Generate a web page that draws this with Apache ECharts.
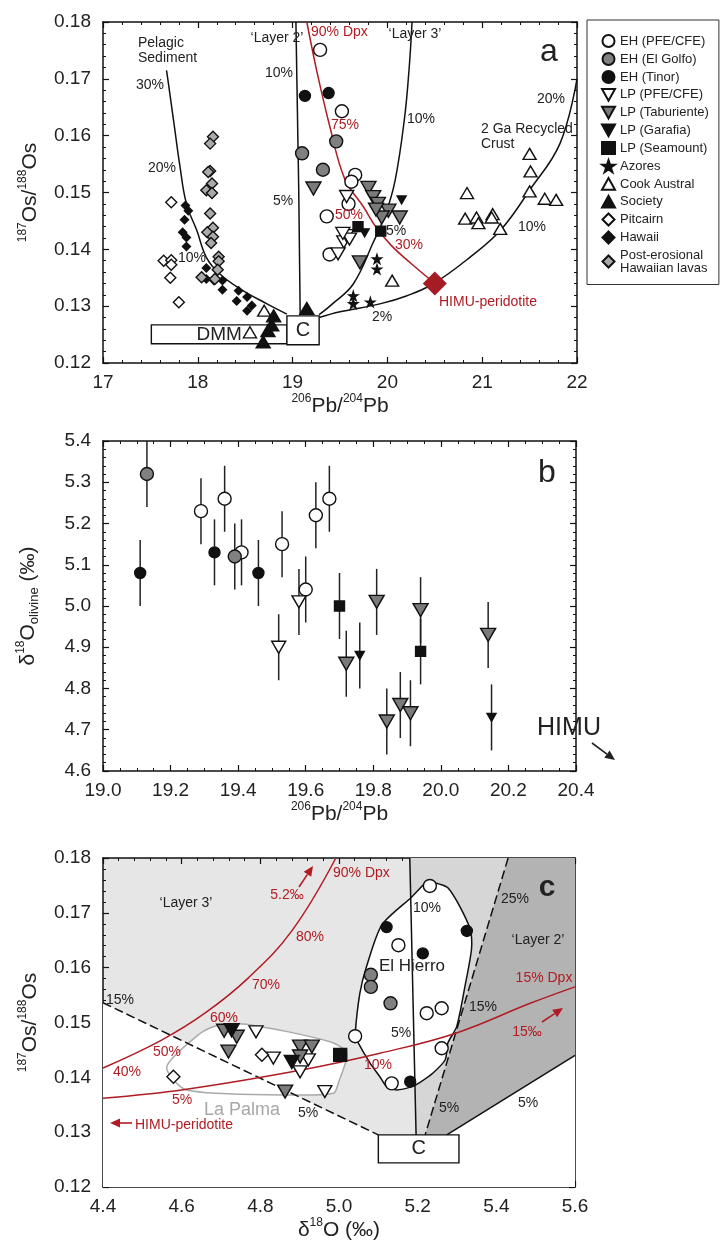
<!DOCTYPE html>
<html>
<head>
<meta charset="utf-8">
<script src="https://cdn.jsdelivr.net/npm/echarts@6/dist/echarts.min.js"></script>
<style>
  html, body { margin: 0; padding: 0; background: #fff; }
  #chart { width: 721px; height: 1254px; }
</style>
</head>
<body>
<div id="chart"></div>
<script>
// ---------- panel a : 187Os/188Os vs 206Pb/204Pb ----------
const aEhPfe = [[19.29,0.1751],[19.52,0.1643],[19.66,0.1531],[19.62,0.1519],[19.59,0.1480],[19.36,0.1458],[19.39,0.1391]];
const aEhGolfo = [[19.10,0.1569],[19.32,0.1540],[19.46,0.1590]];
const aEhTinor = [[19.13,0.1670],[19.38,0.1675]];
const aLpPfe = [[19.57,0.1493],[19.54,0.1413],[19.57,0.1424],[19.60,0.1418],[19.48,0.1392],[19.53,0.1428]];
const aLpTab = [[19.22,0.1507],[19.80,0.1508],[19.85,0.1492],[19.90,0.1480],[20.01,0.1468],[19.94,0.1456],[20.13,0.1456],[19.71,0.1377],[19.88,0.1470]];
const aLpGaraf = [[20.15,0.1487],[19.76,0.1429]];
const aLpSea = [[19.69,0.1440],[19.93,0.1432]];
const aAzores = [[19.89,0.1383],[19.89,0.1365],[19.64,0.1318],[19.64,0.1304],[19.82,0.1307]];
const aCook = [[20.84,0.1499],[20.82,0.1454],[20.94,0.1456],[20.96,0.1446],[21.11,0.1462],[21.10,0.1456],[21.19,0.1436],
  [21.50,0.1568],[21.51,0.1537],[21.50,0.1502],[21.66,0.1489],[21.78,0.1487],[20.05,0.1345],[18.70,0.1292],[18.55,0.1254]];
const aSociety = [[18.80,0.1283],[18.78,0.1267],[18.74,0.1257],[18.69,0.1237],[19.15,0.1296]];
const aPitcairn = [[17.72,0.1483],[17.64,0.1380],[17.72,0.1381],[17.72,0.1373],[17.71,0.1350],[17.80,0.1307]];
const aHawaii = [[17.87,0.1477],[17.90,0.1468],[17.86,0.1452],[17.84,0.1430],[17.88,0.1421],[17.88,0.1405],[18.09,0.1367],
  [18.09,0.1348],[18.17,0.1345],[18.26,0.1345],[18.26,0.1329],[18.43,0.1327],[18.52,0.1316],[18.41,0.1309],[18.57,0.1301],[18.52,0.1292]];
const aPostEro = [[18.16,0.1598],[18.13,0.1586],[18.13,0.1538],[18.11,0.1536],[18.15,0.1516],[18.09,0.1504],[18.15,0.1499],
  [18.13,0.1463],[18.16,0.1438],[18.10,0.1430],[18.16,0.1422],[18.14,0.1411],[18.22,0.1387],[18.22,0.1379],[18.21,0.1364],[18.04,0.1351],[18.18,0.1348]];
const aHimu = [[20.50,0.1340]];
// mixing curves
const aPelagic = [[17.67,0.1715],[17.69,0.1692],[17.75,0.1620],[17.81,0.1548],[17.88,0.1480],[17.99,0.1433],[18.09,0.1386],[18.23,0.1357],[18.45,0.1330],[18.73,0.1304],[18.94,0.1286]];
const aLayer2 = [[19.035,0.18],[19.045,0.17],[19.055,0.16],[19.065,0.15],[19.072,0.14],[19.08,0.1286]];
const aLayer3 = [[19.28,0.1285],[19.42,0.1304],[19.64,0.1339],[19.85,0.1412],[19.98,0.1462],[20.08,0.1520],[20.18,0.1630],[20.23,0.1720],[20.26,0.18]];
const aCrust = [[19.28,0.1280],[19.50,0.1290],[19.92,0.1304],[20.20,0.1318],[20.48,0.1339],[20.87,0.1386],[21.19,0.1433],[21.50,0.1504],[21.82,0.1586],[22.0,0.1700]];
const aDpx = [[19.15,0.18],[19.26,0.1710],[19.39,0.1618],[19.55,0.1524],[19.75,0.1474],[19.88,0.1439],[20.04,0.1407],[20.25,0.1375],[20.50,0.1340]];
const aDmmBox = [17.51, 0.1234, 18.94, 0.1267];
const aCBox = [18.94, 0.1232, 19.28, 0.1283];

// ---------- panel b : d18O olivine vs 206Pb/204Pb ----------
const bEhPfe = [[19.29,5.23],[19.36,5.26],[19.41,5.13],[19.53,5.15],[19.63,5.22],[19.67,5.26],[19.60,5.04]];
const bEhGolfo = [[19.13,5.32],[19.39,5.12]];
const bEhTinor = [[19.11,5.08],[19.33,5.13],[19.46,5.08]];
const bLpPfe = [[19.58,5.01],[19.52,4.90]];
const bLpTab = [[19.81,5.01],[19.94,4.99],[20.14,4.93],[19.72,4.86],[19.84,4.72],[19.88,4.76],[19.91,4.74]];
const bLpGaraf = [[19.76,4.88],[20.15,4.73]];
const bLpSea = [[19.70,5.00],[19.94,4.89]];
const bErr = 0.08;

// ---------- panel c : 187Os/188Os vs d18O ----------
const cEhPfe = [[5.231,0.1749],[5.151,0.1641],[5.261,0.1526],[5.223,0.1517],[5.041,0.1475],[5.261,0.1453],[5.134,0.1389]];
const cEhGolfo = [[5.081,0.1587],[5.081,0.1565],[5.131,0.1535]];
const cEhTinor = [[5.121,0.1674],[5.213,0.1626],[5.325,0.1667],[5.181,0.1392]];
const cLpPfe = [[4.789,0.1483],[4.833,0.1435],[4.901,0.1410],[4.922,0.1432],[4.964,0.1374]];
const cLpTab = [[4.708,0.1485],[4.740,0.1474],[4.719,0.1447],[4.901,0.1456],[4.931,0.1456],[4.901,0.1438],[4.863,0.1374]];
const cLpGaraf = [[4.727,0.1486],[4.880,0.1428]];
const cLpSea = [[5.003,0.1441]];
const cPitcairn = [[4.804,0.1441],[4.579,0.1401]];
const cWhite = [[4.4,0.1536],[5.10,0.1295],[5.274,0.1295],[5.6,0.1440],[5.6,0.12],[4.4,0.12]];
const cMid = [[5.18,0.18],[5.43,0.18],[5.219,0.1295],[5.196,0.1295]];
const cDark = [[5.43,0.18],[5.6,0.18],[5.6,0.1440],[5.274,0.1295],[5.219,0.1295]];
const cElHierro = [[5.231,0.1757],[5.278,0.1745],[5.333,0.1672],[5.337,0.1635],[5.320,0.1565],[5.299,0.1492],[5.277,0.1463],
  [5.270,0.1432],[5.239,0.1408],[5.206,0.1391],[5.185,0.1383],[5.147,0.1377],[5.121,0.1383],[5.104,0.1401],[5.079,0.1426],
  [5.045,0.1468],[5.041,0.1477],[5.053,0.1553],[5.070,0.1602],[5.109,0.1678],[5.185,0.1729],[5.223,0.1757]];
const cLaPalma = [[4.562,0.1419],[4.647,0.1480],[4.693,0.1495],[4.765,0.1497],[4.977,0.1465],[5.020,0.1444],[4.998,0.1389],
  [4.986,0.1371],[4.867,0.1368],[4.613,0.1377]];
const cLayer2Line = [[5.18,0.18],[5.196,0.1295]];
const cRightDash = [[5.43,0.18],[5.219,0.1295]];
const cLeftDash = [[4.4,0.1536],[5.10,0.1295]];
const cLowLine = [[5.274,0.1295],[5.6,0.1440]];
const cDpx90 = [[4.40,0.1417],[4.549,0.1468],[4.659,0.1517],[4.769,0.1581],[4.880,0.1667],[4.992,0.18]];
const cDpx15 = [[4.40,0.1362],[4.608,0.1378],[4.901,0.1413],[5.104,0.1444],[5.299,0.1481],[5.486,0.1535],[5.60,0.1565]];
const cCBox = [5.10, 0.1244, 5.305, 0.1295];

const FONT = '"Liberation Sans", Arial, sans-serif';
const RED = '#b01c23';
const INK = '#222';
const DOWN = 'path://M0,0L10,0L5,9Z';
const UP = 'path://M5,0L10,9L0,9Z';
const DIAMOND = 'path://M5,0L10,5L5,10L0,5Z';
const STAR = 'path://M5,0L6.2,3.6L10,3.6L6.9,5.9L8.1,9.5L5,7.3L1.9,9.5L3.1,5.9L0,3.6L3.8,3.6Z';

const RICH = {
  n: { fontSize: 21, fontFamily: FONT, color: INK, lineHeight: 26 },
  s: { fontSize: 12, fontFamily: FONT, color: INK, verticalAlign: 'top' },
  b: { fontSize: 13, fontFamily: FONT, color: INK, verticalAlign: 'bottom' }
};

// marker styles per group
const STYLE = {
  'EH (PFE/CFE)': { symbol: 'circle', size: 13, fill: '#fff' },
  'EH (El Golfo)': { symbol: 'circle', size: 13, fill: '#808080' },
  'EH (Tinor)': { symbol: 'circle', size: 11, fill: '#111' },
  'LP (PFE/CFE)': { symbol: DOWN, size: [14, 12], fill: '#fff' },
  'LP (Taburiente)': { symbol: DOWN, size: [15, 13], fill: '#7a7a7a' },
  'LP (Garafia)': { symbol: DOWN, size: [9, 8], fill: '#111' },
  'LP (Seamount)': { symbol: 'rect', size: 10, fill: '#111' },
  'Azores': { symbol: STAR, size: 9, fill: '#111' },
  'Cook Austral': { symbol: UP, size: [13, 11], fill: '#fff' },
  'Society': { symbol: UP, size: [14, 12], fill: '#111' },
  'Pitcairn': { symbol: DIAMOND, size: 11, fill: '#fff' },
  'Hawaii': { symbol: DIAMOND, size: 8, fill: '#111' },
  'Post-erosional Hawaiian lavas': { symbol: DIAMOND, size: 11, fill: '#aaa' }
};

function scatter(name, data, gi, sizeOverride) {
  const st = STYLE[name];
  return {
    name: name, type: 'scatter', xAxisIndex: gi * 2, yAxisIndex: gi * 2, z: 5,
    symbol: st.symbol, symbolSize: sizeOverride || st.size,
    itemStyle: { color: st.fill, borderColor: '#111', borderWidth: 1.4, opacity: 1 },
    data: data
  };
}

function curve(data, gi, color, opts) {
  opts = opts || {};
  return {
    type: 'line', xAxisIndex: gi * 2, yAxisIndex: gi * 2, z: opts.z || 3, silent: true,
    data: data, showSymbol: false, smooth: opts.smooth === undefined ? 0.4 : opts.smooth,
    lineStyle: { color: color, width: opts.width || 1.5, type: opts.type || 'solid' }
  };
}

function polygon(points, gi, fill, stroke, z, smooth) {
  return {
    type: 'custom', xAxisIndex: gi * 2, yAxisIndex: gi * 2, z: z, silent: true,
    data: [points[0]],
    renderItem: function (params, api) {
      return {
        type: 'polygon',
        shape: { points: points.map(function (p) { return api.coord(p); }), smooth: smooth || 0 },
        style: { fill: fill, stroke: stroke || null, lineWidth: 1.5 }
      };
    }
  };
}

function box(b, label, gi, size) {
  return {
    type: 'custom', xAxisIndex: gi * 2, yAxisIndex: gi * 2, z: 4, silent: true,
    data: [[b[0], b[1], b[2], b[3]]],
    renderItem: function (params, api) {
      const p0 = api.coord([api.value(0), api.value(3)]);
      const p1 = api.coord([api.value(2), api.value(1)]);
      return {
        type: 'rect',
        shape: { x: p0[0], y: p0[1], width: p1[0] - p0[0], height: p1[1] - p0[1] },
        style: { fill: '#fff', stroke: '#111', lineWidth: 1.4 },
        textContent: { style: { text: label, font: size + 'px ' + FONT, fill: INK } },
        textConfig: { position: 'inside' }
      };
    }
  };
}

// error bars for panel b
const bAll = [].concat(bEhPfe, bEhGolfo, bEhTinor, bLpPfe, bLpTab, bLpGaraf, bLpSea);
const errSeries = {
  type: 'custom', xAxisIndex: 2, yAxisIndex: 2, z: 4, silent: true,
  data: bAll.map(function (p) { return [p[0], p[1], bErr]; }),
  renderItem: function (params, api) {
    const x = api.value(0), y = api.value(1), e = api.value(2);
    const lo = api.coord([x, y - e]), hi = api.coord([x, y + e]);
    return { type: 'line', shape: { x1: lo[0], y1: lo[1], x2: hi[0], y2: hi[1] }, style: { stroke: INK, lineWidth: 1.5 } };
  }
};

function axes(gi, xr, yr, xfmt, yfmt, xMinor, xName, yName, yGap) {
  const tick = { inside: true, length: 6, lineStyle: { color: '#111', width: 1.2 } };
  const base = {
    type: 'value', gridIndex: gi, splitLine: { show: false },
    axisLine: { onZero: false, lineStyle: { color: '#111', width: 1.5 } },
    axisTick: tick,
    minorTick: { show: true, length: 3, lineStyle: { color: '#111', width: 1 } }
  };
  const lab = { fontSize: 19, color: INK, fontFamily: FONT, showMinLabel: true, showMaxLabel: true };
  const xb = Object.assign({}, base, {
    position: 'bottom', min: xr[0], max: xr[1], interval: xr[2],
    minorTick: Object.assign({}, base.minorTick, { splitNumber: xMinor }),
    axisLabel: Object.assign({ margin: 10, formatter: xfmt }, lab),
    name: xName, nameLocation: 'middle', nameGap: 30, nameTextStyle: { rich: RICH }
  });
  const xt = Object.assign({}, base, {
    position: 'top', min: xr[0], max: xr[1], interval: xr[2],
    minorTick: Object.assign({}, base.minorTick, { splitNumber: xMinor }), axisLabel: { show: false }
  });
  const yl = Object.assign({}, base, {
    position: 'left', min: yr[0], max: yr[1], interval: yr[2],
    minorTick: Object.assign({}, base.minorTick, { splitNumber: 5 }),
    axisLabel: Object.assign({ margin: 12, formatter: yfmt }, lab),
    name: yName, nameLocation: 'middle', nameRotate: 90, nameGap: yGap, nameTextStyle: { rich: RICH }
  });
  const yr2 = Object.assign({}, base, {
    position: 'right', min: yr[0], max: yr[1], interval: yr[2],
    minorTick: Object.assign({}, base.minorTick, { splitNumber: 5 }), axisLabel: { show: false }
  });
  return { x: [xb, xt], y: [yl, yr2] };
}

const f0 = function (v) { return v.toFixed(0); };
const f1 = function (v) { return v.toFixed(1); };
const f2 = function (v) { return v.toFixed(2); };
const PB = '{s|206}{n|Pb/}{s|204}{n|Pb}';
const OS = '{s|187}{n|Os/}{s|188}{n|Os}';
const A = axes(0, [17, 22, 1], [0.12, 0.18, 0.01], f0, f2, 5, PB, OS, 60);
const B = axes(1, [19.0, 20.4, 0.2], [4.6, 5.4, 0.1], f1, f1, 4, PB, '{n|δ}{s|18}{n|O}{b|olivine}{n| (‰)}', 62);
const C = axes(2, [4.4, 5.6, 0.2], [0.12, 0.18, 0.01], f1, f2, 5, '{n|δ}{s|18}{n|O (‰)}', OS, 60);

// text annotations
function txt(x, y, text, color, size, align, weight) {
  return { type: 'text', x: x, y: y, z: 50, silent: true,
    style: { text: text, fill: color || INK, font: (weight || 'normal') + ' ' + (size || 14) + 'px ' + FONT,
      align: align || 'center', verticalAlign: 'middle' } };
}
function arrow(x1, y1, x2, y2, color) {
  const a = Math.atan2(y2 - y1, x2 - x1), L = 10, W = 4.5;
  const bx = x2 - L * Math.cos(a), by = y2 - L * Math.sin(a);
  return [
    { type: 'line', z: 50, shape: { x1: x1, y1: y1, x2: bx, y2: by }, style: { stroke: color, lineWidth: 1.6 } },
    { type: 'polygon', z: 50, shape: { points: [[x2, y2], [bx - W * Math.sin(a), by + W * Math.cos(a)], [bx + W * Math.sin(a), by - W * Math.cos(a)]] }, style: { fill: color } }
  ];
}

const notes = [
  // panel a
  txt(138, 43, 'Pelagic', INK, 14, 'left'), txt(138, 58, 'Sediment', INK, 14, 'left'),
  txt(277, 38, '\u2018Layer 2\u2019', INK, 14), txt(415, 34, '\u2018Layer 3\u2019', INK, 14),
  txt(311, 32, '90% Dpx', RED, 14, 'left'),
  txt(549, 52, 'a', INK, 32),
  txt(150, 85, '30%'), txt(162, 168, '20%'), txt(192, 258, '10%'),
  txt(279, 73, '10%'), txt(283, 201, '5%'),
  txt(407, 119, '10%', INK, 14, 'left'), txt(396, 231, '5%'),
  txt(345, 125, '75%', RED), txt(349, 215, '50%', RED), txt(409, 245, '30%', RED),
  txt(488, 302, 'HIMU-peridotite', RED),
  txt(382, 317, '2%'), txt(532, 227, '10%'), txt(551, 99, '20%'),
  txt(481, 129, '2 Ga Recycled', INK, 14, 'left'), txt(481, 144, 'Crust', INK, 14, 'left'),
  // panel b
  txt(547, 473, 'b', INK, 32),
  txt(569, 728, 'HIMU', INK, 25),
  // panel c
  txt(547, 888, 'c', INK, 30, 'center', 'bold'),
  txt(186, 903, '\u2018Layer 3\u2019'), txt(538, 940, '\u2018Layer 2\u2019'),
  txt(412, 966, 'El Hierro', INK, 17), txt(242, 1110, 'La Palma', '#a8a8a8', 18),
  txt(287, 895, '5.2\u2030', RED), txt(333, 873, '90% Dpx', RED, 14, 'left'),
  txt(310, 937, '80%', RED), txt(266, 985, '70%', RED), txt(224, 1018, '60%', RED),
  txt(167, 1052, '50%', RED), txt(127, 1072, '40%', RED),
  txt(182, 1100, '5%', RED), txt(378, 1065, '10%', RED),
  txt(544, 978, '15% Dpx', RED), txt(527, 1032, '15\u2030', RED),
  txt(135, 1125, 'HIMU-peridotite', RED, 14, 'left'),
  txt(120, 1000, '15%'), txt(427, 908, '10%'), txt(515, 899, '25%'),
  txt(483, 1007, '15%'), txt(401, 1033, '5%'),
  txt(308, 1113, '5%'), txt(449, 1108, '5%'), txt(528, 1103, '5%')
].concat(arrow(592, 743, 615, 760, INK), arrow(299, 887, 313, 866, RED),
  arrow(542, 1022, 563, 1008, RED), arrow(132, 1123, 110, 1123, RED));

const legendNames = Object.keys(STYLE);

const series = [
  // panel a curves and boxes
  curve(aPelagic, 0, '#111'), curve(aLayer2, 0, '#111'), curve(aLayer3, 0, '#111'),
  curve(aCrust, 0, '#111'), curve(aDpx, 0, RED),
  box(aDmmBox, 'DMM', 0, 19), box(aCBox, 'C', 0, 20),
  // panel c fills and outlines
  polygon(cWhite, 2, '#fff', null, 1), polygon(cMid, 2, '#d6d6d6', null, 1), polygon(cDark, 2, '#b3b3b3', null, 1),
  polygon(cLaPalma, 2, '#fff', '#aaaaaa', 2, 0.25), polygon(cElHierro, 2, '#fff', '#111', 2, 0.25),
  curve(cLayer2Line, 2, '#111', { smooth: false }), curve(cRightDash, 2, '#111', { smooth: false, type: [9, 4] }),
  curve(cLeftDash, 2, '#111', { smooth: false, type: [9, 4] }), curve(cLowLine, 2, '#111', { smooth: false }),
  curve(cDpx90, 2, RED), curve(cDpx15, 2, RED),
  box(cCBox, 'C', 2, 20),
  errSeries,
  // panel a markers (first, so the legend takes their symbols)
  scatter('EH (PFE/CFE)', aEhPfe, 0), scatter('EH (El Golfo)', aEhGolfo, 0), scatter('EH (Tinor)', aEhTinor, 0),
  scatter('LP (PFE/CFE)', aLpPfe, 0), scatter('LP (Taburiente)', aLpTab, 0), scatter('LP (Garafia)', aLpGaraf, 0),
  scatter('LP (Seamount)', aLpSea, 0), scatter('Azores', aAzores, 0), scatter('Cook Austral', aCook, 0),
  scatter('Society', aSociety, 0), scatter('Pitcairn', aPitcairn, 0), scatter('Hawaii', aHawaii, 0),
  scatter('Post-erosional Hawaiian lavas', aPostEro, 0),
  {
    type: 'scatter', xAxisIndex: 0, yAxisIndex: 0, z: 6, silent: true, symbol: DIAMOND, symbolSize: 24,
    itemStyle: { color: '#a51c24', opacity: 1 }, data: aHimu
  },
  // panel b markers
  scatter('EH (PFE/CFE)', bEhPfe, 1), scatter('EH (El Golfo)', bEhGolfo, 1), scatter('EH (Tinor)', bEhTinor, 1),
  scatter('LP (PFE/CFE)', bLpPfe, 1), scatter('LP (Taburiente)', bLpTab, 1), scatter('LP (Garafia)', bLpGaraf, 1),
  scatter('LP (Seamount)', bLpSea, 1),
  // panel c markers
  scatter('EH (PFE/CFE)', cEhPfe, 2), scatter('EH (El Golfo)', cEhGolfo, 2), scatter('EH (Tinor)', cEhTinor, 2),
  scatter('LP (PFE/CFE)', cLpPfe, 2), scatter('LP (Taburiente)', cLpTab, 2), scatter('LP (Garafia)', cLpGaraf, 2, [15, 13]),
  scatter('LP (Seamount)', cLpSea, 2, 13), scatter('Pitcairn', cPitcairn, 2, 13)
];

const chart = echarts.init(document.getElementById('chart'), null, { renderer: 'canvas' });
chart.setOption({
  animation: false,
  backgroundColor: '#fff',
  textStyle: { fontFamily: FONT },
  grid: [
    { left: 103, top: 22, width: 474, height: 341 },
    { left: 103, top: 441, width: 473, height: 330 },
    { left: 103, top: 858, width: 472, height: 329, show: true, backgroundColor: '#e6e6e6', borderWidth: 0 }
  ],
  xAxis: [].concat(A.x, B.x, C.x),
  yAxis: [].concat(A.y, B.y, C.y),
  legend: {
    data: legendNames, orient: 'vertical', left: 587, top: 20, selectedMode: false,
    itemWidth: 13, itemHeight: 12, itemGap: 4, padding: [14, 10, 10, 14],
    borderColor: '#333', borderWidth: 1, backgroundColor: '#fff',
    textStyle: { fontSize: 13, color: INK, fontFamily: FONT },
    formatter: function (n) { return n.replace(' Hawaiian', '\nHawaiian'); }
  },
  graphic: notes,
  series: series
});
</script>
</body>
</html>
